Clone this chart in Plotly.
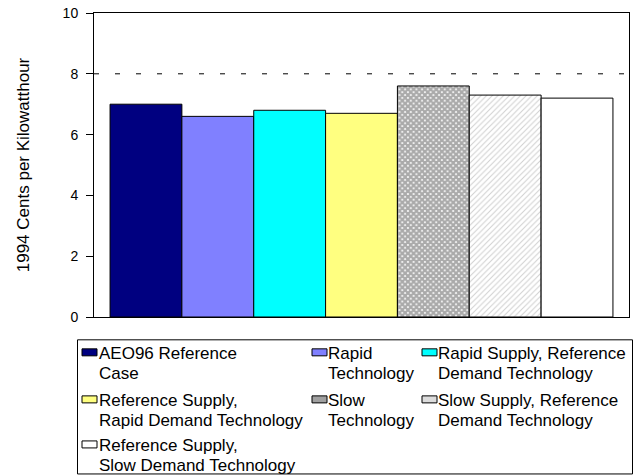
import plotly.graph_objects as go

# ---- data ----
scenarios = [
    "AEO96 Reference Case",
    "Rapid Technology",
    "Rapid Supply, Reference Demand Technology",
    "Reference Supply, Rapid Demand Technology",
    "Slow Technology",
    "Slow Supply, Reference Demand Technology",
    "Reference Supply, Slow Demand Technology",
]
legend_labels = [
    "AEO96 Reference<br>Case",
    "Rapid<br>Technology",
    "Rapid Supply, Reference<br>Demand Technology",
    "Reference Supply,<br>Rapid Demand Technology",
    "Slow<br>Technology",
    "Slow Supply, Reference<br>Demand Technology",
    "Reference Supply,<br>Slow Demand Technology",
]
prices = [7.0, 6.6, 6.8, 6.7, 7.6, 7.3, 7.2]
y_ticks = [0, 2, 4, 6, 8, 10]
y_title = "1994 Cents per Kilowatthour"

# ---- styles ----
fills = ["#000080", "#8080FF", "#00FFFF", "#FFFF80", "white", "white", "white"]
patterns = [None, None, None, None,
            dict(shape="x", size=4, solidity=0.8, fgcolor="#555555", fillmode="overlay"),
            dict(shape="/", size=4, solidity=0.25, fgcolor="#a0a0a0", fillmode="overlay"),
            None]
swatch_fills = ["#000080", "#8080FF", "#00FFFF", "#FFFF80", "#a0a0a0", "#dcdcdc", "white"]

W, H = 641, 476
L, R, T, B = 94, 629, 13, 316.7

def px_x(x):
    return (x - L) / (R - L)

def px_y(y):
    return (B - y) / (B - T)

fig = go.Figure()
for name, val, fc, pat in zip(scenarios, prices, fills, patterns):
    marker = dict(color=fc, line=dict(color="black", width=1))
    if pat:
        marker["pattern"] = pat
    fig.add_trace(go.Bar(x=[0], y=[val], name=name, marker=marker, showlegend=False))

shapes = []
annotations = []
# dashed reference gridline at 8
shapes.append(dict(type="line", xref="paper", yref="y", x0=0, x1=1, y0=8, y1=8,
                   line=dict(color="black", width=1, dash="5px,16px"), layer="below"))
# legend box
shapes.append(dict(type="rect", xref="paper", yref="paper",
                   x0=px_x(77.5), x1=px_x(632.5), y0=px_y(339.5), y1=px_y(473.5),
                   line=dict(color="black", width=1), fillcolor="rgba(0,0,0,0)"))

col_swatch = [82, 312, 422]
col_text = [97, 325.5, 435.5]
row_line1 = [353, 400, 445]
line_step = 20
for i, (lab, sf) in enumerate(zip(legend_labels, swatch_fills)):
    r, c = divmod(i, 3)
    sy = row_line1[r] - 1
    shapes.append(dict(type="rect", xref="paper", yref="paper",
                       x0=px_x(col_swatch[c]), x1=px_x(col_swatch[c] + 15),
                       y0=px_y(sy - 3.5), y1=px_y(sy + 3.5),
                       fillcolor=sf, line=dict(color="black", width=1)))
    for k, part in enumerate(lab.split("<br>")):
        annotations.append(dict(xref="paper", yref="paper", x=px_x(col_text[c]),
                                y=px_y(row_line1[r] + k * line_step),
                                xanchor="left", yanchor="middle", align="left", showarrow=False,
                                text=part, font=dict(family="Liberation Sans, Arial", size=17, color="black")))

fig.update_layout(
    width=W, height=H,
    margin=dict(l=L, r=W - R, t=T, b=H - B, pad=0, autoexpand=False),
    paper_bgcolor="white", plot_bgcolor="white",
    barmode="group", bargap=0.06, bargroupgap=0,
    font=dict(family="Liberation Sans, Arial", color="black"),
    shapes=shapes, annotations=annotations,
    xaxis=dict(range=[-0.5, 0.5], showticklabels=False, ticks="", showgrid=False, zeroline=False,
               showline=True, linecolor="black", linewidth=1, mirror=True, automargin=False),
    yaxis=dict(range=[0, 10], tickvals=y_ticks, ticks="outside", ticklen=7, tickcolor="black",
               showgrid=False, zeroline=False, showline=True, linecolor="black", linewidth=1, mirror=True,
               tickfont=dict(size=14, color="black"), ticklabelstandoff=5, automargin=False,
               title=dict(text=y_title, font=dict(size=17, color="black"), standoff=28)),
)

fig.write_html("out.html")
